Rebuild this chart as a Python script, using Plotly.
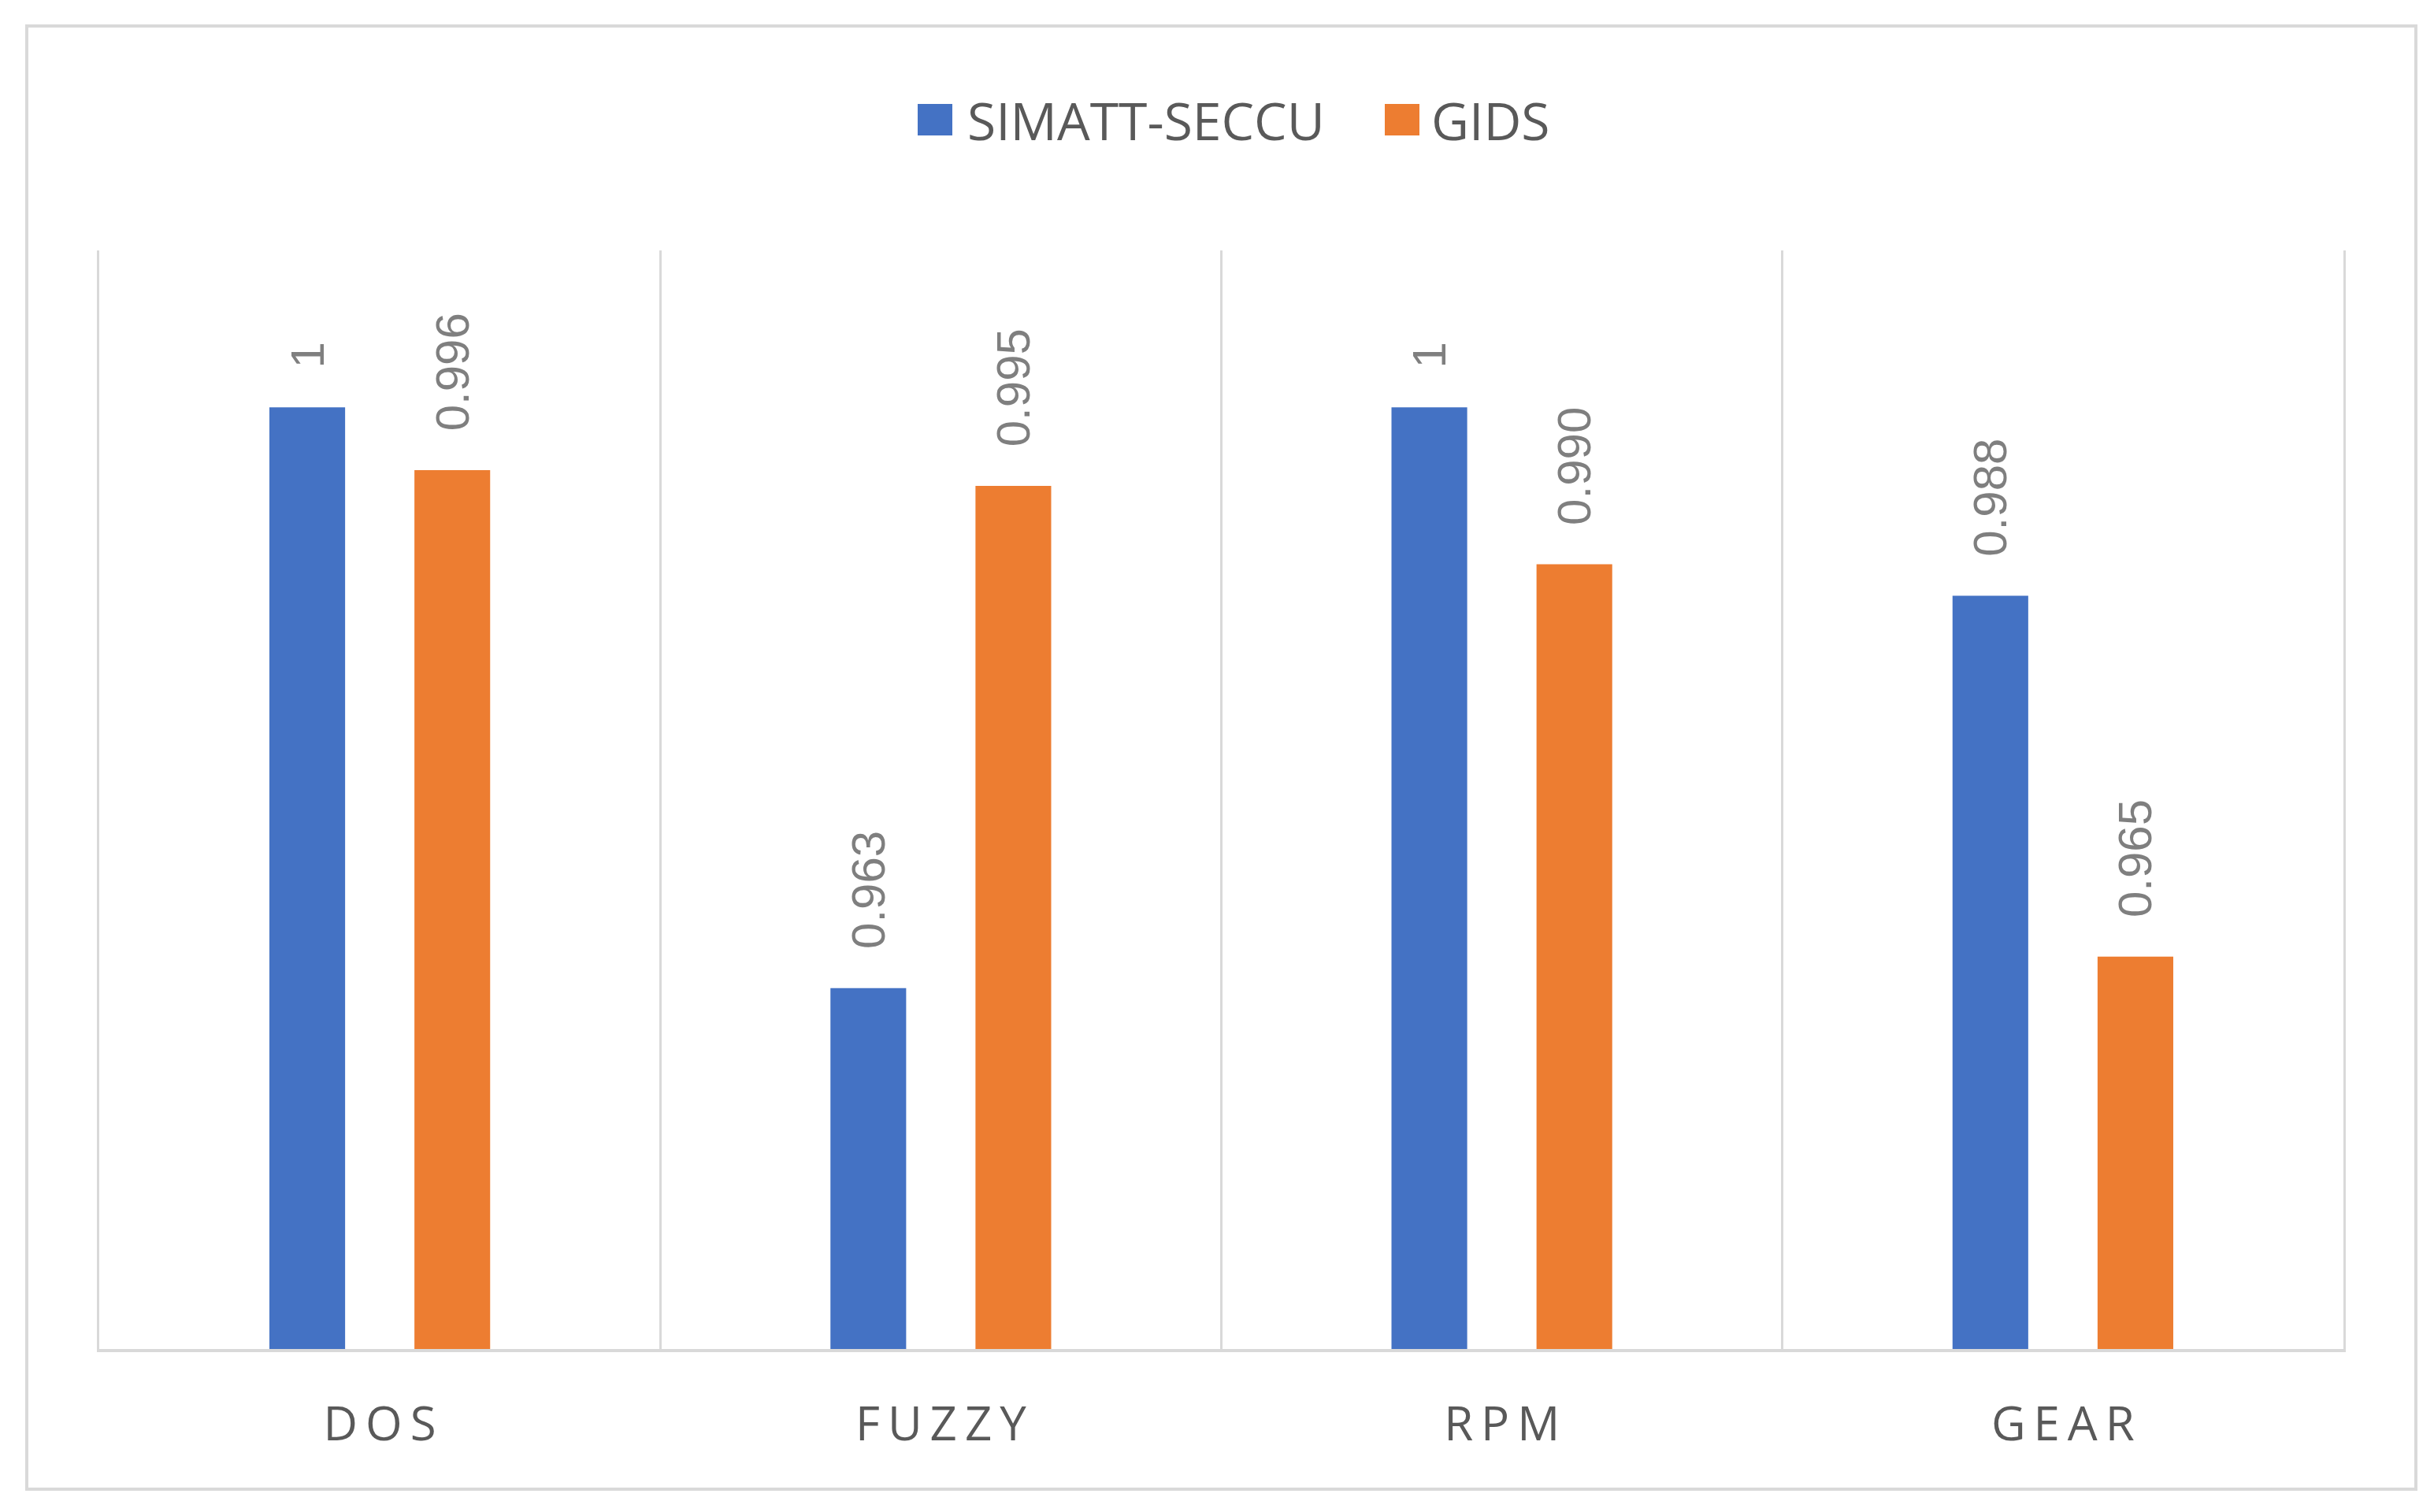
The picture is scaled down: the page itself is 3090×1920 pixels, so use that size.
import plotly.graph_objects as go

# categorias e valores
categories = ["DOS", "FUZZY", "RPM", "GEAR"]
series_names = ["SIMATT-SECCU", "GIDS"]
simatt = [1.0, 0.963, 1.0, 0.988]
gids = [0.996, 0.995, 0.990, 0.965]
simatt_labels = ["1", "0.963", "1", "0.988"]
gids_labels = ["0.996", "0.995", "0.990", "0.965"]
colors = ["#4472C4", "#ED7D31"]

W, H = 3090, 1920
pad = "\u2002\u00a0"  # empurra o rótulo para cima da barra

# rótulos do eixo x com espaçamento entre letras
tick_text = ["\u2009".join(c) for c in categories]

label_font = dict(family="Liberation Sans, Arial", size=60, color="#7f7f7f")

fig = go.Figure()

for name, vals, labs, col in [(series_names[0], simatt, simatt_labels, colors[0]),
                              (series_names[1], gids, gids_labels, colors[1])]:
    fig.add_trace(go.Bar(
        x=categories, y=vals, name=name,
        marker=dict(color=col, line=dict(width=0)),
        text=[pad + t for t in labs], textposition="outside",
        textangle=-90, constraintext="none", cliponaxis=False,
        textfont=label_font, showlegend=False,
    ))

fig.update_xaxes(
    type="category", tickson="boundaries", showgrid=True,
    gridcolor="#d9d9d9", gridwidth=3,
    showline=True, linecolor="#d9d9d9", linewidth=4,
    ticks="", tickvals=categories, ticktext=tick_text,
    ticklabelstandoff=40,
    tickfont=dict(family="Open Sans", size=60, color="#595959"),
)
fig.update_yaxes(
    range=[0.94, 1.01], showgrid=False, zeroline=False,
    showticklabels=False, ticks="",
    showline=True, mirror=True, linecolor="#d9d9d9", linewidth=3,
)

l, r, t, b = 118, 123, 310, 215
pw, ph = W - l - r, H - t - b


def px(x):
    return (x - l) / pw


def py(y):
    return (H - b - y) / ph


# moldura externa do gráfico
fig.add_shape(
    type="rect", xref="paper", yref="paper",
    x0=px(26), x1=px(3059), y0=py(1883), y1=py(25),
    line=dict(color="#d9d9d9", width=4), layer="below",
)

# legenda no estilo do Excel (quadrados grandes)
legend_items = [(1157, 1218), (1750, 1807)]
for (sx, tx), name, col in zip(legend_items, series_names, colors):
    fig.add_shape(
        type="rect", xref="paper", yref="paper",
        x0=px(sx), x1=px(sx + 44), y0=py(164), y1=py(124),
        fillcolor=col, line=dict(width=0),
    )
    fig.add_annotation(
        xref="paper", yref="paper", x=px(tx), y=py(144),
        xanchor="left", yanchor="middle", text=name, showarrow=False,
        font=dict(family="Open Sans", size=66, color="#595959"),
    )

fig.update_layout(
    width=W, height=H,
    margin=dict(l=l, r=r, t=t, b=b),
    barmode="group", bargap=0.483, bargroupgap=0.478,
    plot_bgcolor="white", paper_bgcolor="white",
)

fig.write_html("out.html")
